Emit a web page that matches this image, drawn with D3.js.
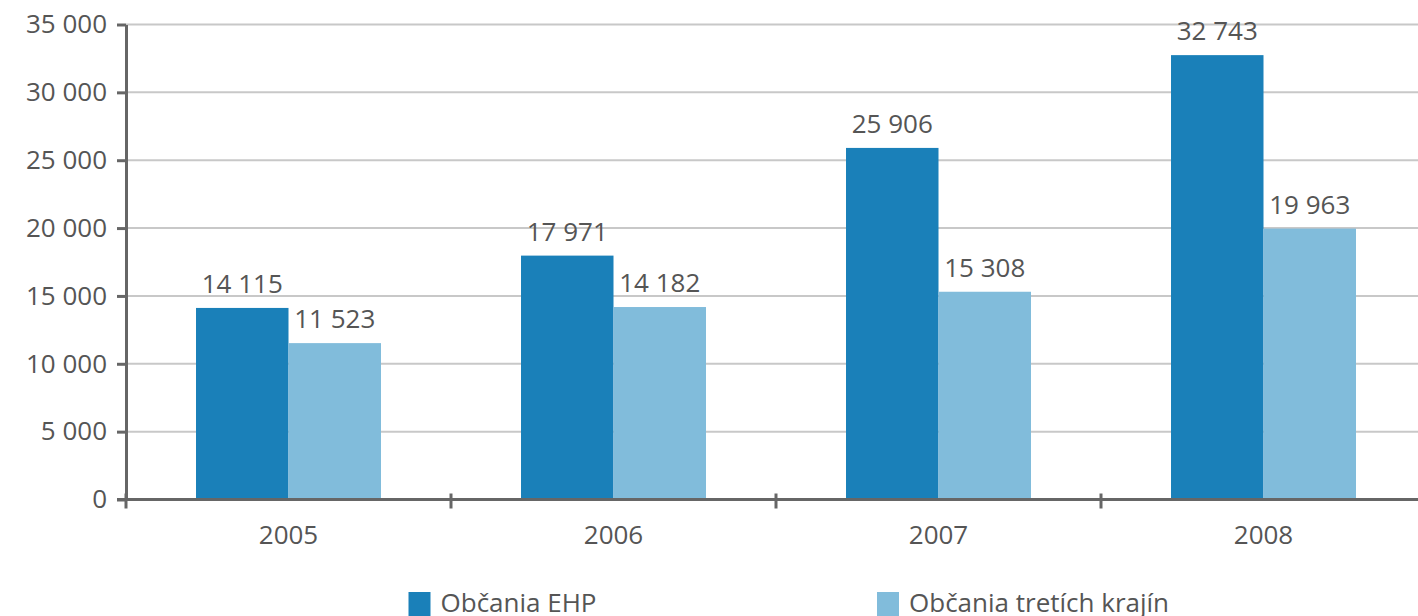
<!DOCTYPE html>
<html>
<head>
<meta charset="utf-8">
<script src="https://cdn.jsdelivr.net/npm/d3@7"></script>
<style>
  body { margin: 0; background: #fff; }
  text { font-family: "Open Sans", sans-serif; fill: #555; }
</style>
</head>
<body>
<svg id="graf" width="1418" height="616"></svg>
<script>
const roky = ['2005', '2006', '2007', '2008'];
const serie = ['Občania EHP', 'Občania tretích krajín'];
const obcaniaEHP = [14115, 17971, 25906, 32743];
const tretieKrajiny = [11523, 14182, 15308, 19963];
const yTicky = [0, 5000, 10000, 15000, 20000, 25000, 30000, 35000];
const farby = ['#1a80b9', '#81bcdb'];

const hodnoty = [obcaniaEHP, tretieKrajiny];
const data = roky.map((r, i) => ({rok: r, vals: serie.map((s, j) => ({serie: s, val: hodnoty[j][i], farba: farby[j]}))}));

const locale = d3.formatLocale({decimal: ',', thousands: ' ', grouping: [3], currency: ['', '']});
const fmt = locale.format(',d');

let svg = d3.select('#graf');
const okrajL = 126, okrajP = 1426, okrajH = 24.5, okrajD = 499.5;

let y = d3.scaleLinear().domain([0, 35000]).range([okrajD, okrajH]);
let x0 = d3.scaleBand().domain(roky).range([okrajL, okrajP]).padding(0);
let x1 = d3.scaleBand().domain(serie).range([0, x0.bandwidth()]).paddingInner(0).paddingOuter(0.757);

// mriezka
svg.append('g')
    .selectAll('line')
    .data(yTicky.filter(d => d > 0))
    .enter()
    .append('line')
    .attr('x1', okrajL)
    .attr('x2', 1418)
    .attr('y1', d => y(d))
    .attr('y2', d => y(d))
    .style('stroke', '#c8c8c8')
    .style('stroke-width', 2);

// stlpce
let skupiny = svg.selectAll('.skupina')
    .data(data)
    .enter()
    .append('g')
    .attr('transform', d => `translate(${x0(d.rok)},0)`);

skupiny.selectAll('rect')
    .data(d => d.vals)
    .enter()
    .append('rect')
    .attr('x', d => x1(d.serie))
    .attr('width', x1.bandwidth())
    .attr('y', d => y(d.val))
    .attr('height', d => okrajD - y(d.val))
    .style('fill', d => d.farba);

skupiny.selectAll('.hodnota')
    .data(d => d.vals)
    .enter()
    .append('text')
    .attr('x', d => x1(d.serie) + x1.bandwidth() / 2)
    .attr('y', d => y(d.val) - 15)
    .attr('text-anchor', 'middle')
    .style('font-size', '26px')
    .text(d => fmt(d.val));

// os y
let osY = svg.append('g')
    .attr('transform', `translate(${okrajL},0)`)
    .call(d3.axisLeft(y).tickValues(yTicky).tickFormat(fmt).tickSize(9).tickPadding(10).tickSizeOuter(0));
osY.select('.domain').style('stroke', '#666').style('stroke-width', 3);
osY.selectAll('.tick line').style('stroke', '#666').style('stroke-width', 3);
osY.selectAll('text').style('font-size', '26px').style('font-family', '"Open Sans", sans-serif').attr('fill', '#555');

// os x
let osX = svg.append('g')
    .attr('transform', `translate(0,${okrajD})`);
osX.append('line')
    .attr('x1', okrajL - 9)
    .attr('x2', 1418)
    .style('stroke', '#666')
    .style('stroke-width', 3);
osX.selectAll('.hranica')
    .data(roky)
    .enter()
    .append('line')
    .attr('x1', d => x0(d))
    .attr('x2', d => x0(d))
    .attr('y1', -6)
    .attr('y2', 9)
    .style('stroke', '#666')
    .style('stroke-width', 3);
osX.selectAll('text')
    .data(roky)
    .enter()
    .append('text')
    .attr('x', d => x0(d) + x0.bandwidth() / 2)
    .attr('y', 44.5)
    .attr('text-anchor', 'middle')
    .style('font-size', '26px')
    .text(d => d);

// legenda
let legenda = svg.selectAll('.legenda')
    .data(serie)
    .enter()
    .append('g')
    .attr('transform', (d, i) => `translate(${[408.5, 877][i]},592)`);
legenda.append('rect')
    .attr('width', 22)
    .attr('height', 24)
    .style('fill', (d, i) => farby[i]);
legenda.append('text')
    .attr('x', 32)
    .attr('y', 20)
    .style('font-size', '26px')
    .text(d => d);
</script>
</body>
</html>
